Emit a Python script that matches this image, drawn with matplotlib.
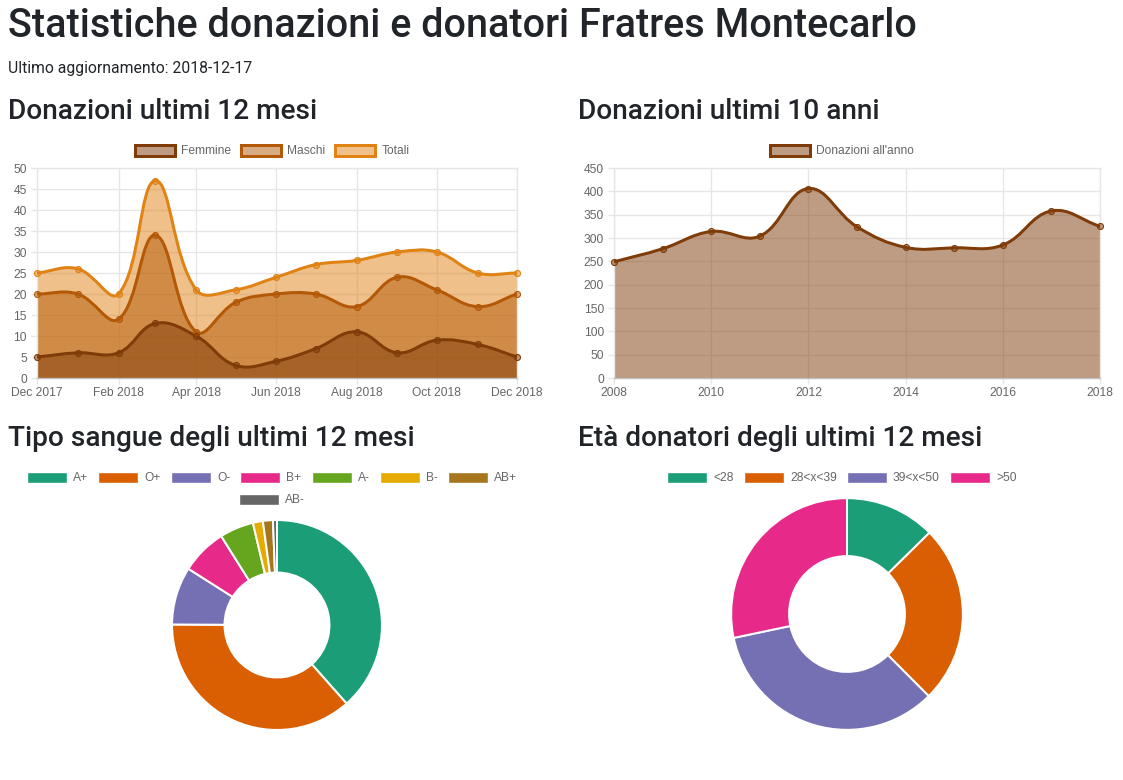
import numpy as np
import pandas as pd
import matplotlib
matplotlib.use("Agg")
import matplotlib.pyplot as plt
import matplotlib.dates as mdates
from matplotlib.path import Path
from matplotlib.patches import PathPatch, Rectangle

# --- data ---
mesi = pd.date_range("2017-12-01", periods=13, freq="MS")
femmine = [5, 6, 6, 13, 10, 3, 4, 7, 11, 6, 9, 8, 5]
maschi = [20, 20, 14, 34, 11, 18, 20, 20, 17, 24, 21, 17, 20]
totali = [25, 26, 20, 47, 21, 21, 24, 27, 28, 30, 30, 25, 25]

anni = list(range(2008, 2019))
donazioni_anno = [249, 277, 314, 304, 406, 324, 280, 279, 285, 358, 325]

gruppi = ["A+", "O+", "O-", "B+", "A-", "B-", "AB+", "AB-"]
gruppi_n = [125, 119, 29, 23, 17, 5, 5, 2]

fasce = ["<28", "28<x<39", "39<x<50", ">50"]
fasce_n = [41, 81, 111, 92]

dark2 = ["#1b9e77", "#d95f02", "#7570b3", "#e7298a", "#66a61e", "#e6ab02", "#a6761d", "#666666"]
brown, orange_dk, orange = "#7f3b08", "#b35806", "#e08214"

W, H = 1123, 780
fig = plt.figure(figsize=(W / 100, H / 100), dpi=100)
TXT = "#212529"
GRAY = "#666666"
GRID = "#e6e6e6"
PX = 72 / 100  # points per pixel


def fx(px):
    return px / W


def fy(py):
    return 1 - py / H


def spline(ax, xs, ys, t=0.4):
    # chart.js style bezier through the points, computed in pixel space
    pts = ax.transData.transform(np.column_stack([xs, ys]))
    n = len(pts)
    cp_prev = np.zeros_like(pts)
    cp_next = np.zeros_like(pts)
    for i in range(n):
        p = pts[i - 1] if i > 0 else pts[i]
        q = pts[i + 1] if i < n - 1 else pts[i]
        d01 = np.hypot(*(pts[i] - p))
        d12 = np.hypot(*(q - pts[i]))
        tot = d01 + d12
        s01 = d01 / tot if tot else 0
        s12 = d12 / tot if tot else 0
        cp_prev[i] = pts[i] - t * s01 * (q - p)
        cp_next[i] = pts[i] + t * s12 * (q - p)
    bb = ax.bbox
    cp_prev[:, 1] = np.clip(cp_prev[:, 1], bb.y0, bb.y1)
    cp_next[:, 1] = np.clip(cp_next[:, 1], bb.y0, bb.y1)
    verts = [pts[0]]
    for i in range(n - 1):
        verts += [cp_next[i], cp_prev[i + 1], pts[i + 1]]
    return ax.transData.inverted().transform(np.array(verts))


def draw_series(ax, xs, ys, color):
    v = spline(ax, xs, ys)
    codes = [Path.MOVETO] + [Path.CURVE4] * (len(v) - 1)
    fill_v = np.vstack([[v[0, 0], 0], v, [v[-1, 0], 0], [v[0, 0], 0]])
    fill_c = [Path.MOVETO, Path.LINETO] + codes[1:] + [Path.LINETO, Path.CLOSEPOLY]
    ax.add_patch(PathPatch(Path(fill_v, fill_c), facecolor=matplotlib.colors.to_rgba(color, 0.5),
                           edgecolor="none", zorder=2))
    ax.add_patch(PathPatch(Path(v, codes), facecolor="none", edgecolor=color,
                           linewidth=3 * PX, zorder=3, capstyle="round", joinstyle="round"))
    ax.plot(xs, ys, "o", ms=6 * PX, mfc=matplotlib.colors.to_rgba(color, 0.5),
            mec=color, mew=0.8, zorder=4, clip_on=False)


def style_axes(ax):
    ax.set_axisbelow(True)
    for s in ax.spines.values():
        s.set_color(GRID)
        s.set_linewidth(1)
    ax.spines["bottom"].set_color("#bfbfbf")
    ax.tick_params(length=6 * PX, width=1, color=GRID,
                   labelsize=12 * PX, labelcolor=GRAY)
    ax.tick_params(axis="y", pad=4 * PX)
    ax.tick_params(axis="x", pad=3 * PX)
    ax.grid(True, color=GRID, linewidth=1, alpha=1)
    for lab in ax.get_xticklabels() + ax.get_yticklabels():
        lab.set_family("Liberation Sans")


def legend(handles, labels, cx, cy):
    leg = fig.legend(handles, labels, loc="center", bbox_to_anchor=(fx(cx), fy(cy)),
                     ncol=len(labels), frameon=False,
                     handlelength=40 / 12, handleheight=12 / 12, handletextpad=0.5,
                     columnspacing=0.85, borderpad=0, borderaxespad=0,
                     prop={"family": "Liberation Sans", "size": 12 * PX})
    for t in leg.get_texts():
        t.set_color(GRAY)
    return leg


# --- headings ---
fig.text(fx(8), fy(37), "Statistiche donazioni e donatori Fratres Montecarlo", family="Roboto",
         fontweight=500, fontsize=39.6 * PX, color=TXT, va="baseline")
fig.text(fx(8), fy(72.5), "Ultimo aggiornamento: 2018-12-17", family="Roboto",
         fontsize=15.75 * PX, color=TXT, va="baseline")
for x, y, s in [(8, 119, "Donazioni ultimi 12 mesi"), (578, 119, "Donazioni ultimi 10 anni"),
                (8, 446, "Tipo sangue degli ultimi 12 mesi"), (578, 446, "Età donatori degli ultimi 12 mesi")]:
    fig.text(fx(x), fy(y), s, family="Roboto", fontweight=500, fontsize=28 * PX, color=TXT, va="baseline")

# --- monthly donations ---
ax1 = fig.add_axes([fx(37), fy(378), (517 - 37) / W, (378 - 168) / H])
xm = mdates.date2num(mesi)
ax1.set_xlim(xm[0], xm[-1])
ax1.set_ylim(0, 50)
ax1.set_yticks(range(0, 51, 5))
ax1.set_xticks(xm[::2])
ax1.set_xticklabels([d.strftime("%b %Y") for d in mesi[::2]])
style_axes(ax1)
series = [("Femmine", femmine, brown), ("Maschi", maschi, orange_dk), ("Totali", totali, orange)]
for name, vals, col in series[::-1]:
    draw_series(ax1, xm, vals, col)
legend([Rectangle((0, 0), 1, 1, facecolor=matplotlib.colors.to_rgba(c, 0.5), edgecolor=c, linewidth=3 * PX)
        for _, _, c in series], [s[0] for s in series], 272, 151)

# --- yearly donations ---
ax2 = fig.add_axes([fx(614), fy(378), (1100 - 614) / W, (378 - 168) / H])
ax2.set_xlim(anni[0], anni[-1])
ax2.set_ylim(0, 450)
ax2.set_yticks(range(0, 451, 50))
ax2.set_xticks(anni[::2])
style_axes(ax2)
draw_series(ax2, anni, donazioni_anno, brown)
legend([Rectangle((0, 0), 1, 1, facecolor=matplotlib.colors.to_rgba(brown, 0.5), edgecolor=brown,
                  linewidth=3 * PX)], ["Donazioni all'anno"], 842, 151)


# --- doughnuts ---
def doughnut(vals, colors, cx, cy, r):
    ax = fig.add_axes([fx(cx - r), fy(cy + r), 2 * r / W, 2 * r / H])
    ax.pie(vals, colors=colors, startangle=90, counterclock=False, radius=1,
           wedgeprops=dict(width=0.5, edgecolor="white", linewidth=2 * PX))
    ax.set_xlim(-1.01, 1.01)
    ax.set_ylim(-1.01, 1.01)
    ax.axis("off")


doughnut(gruppi_n, dark2, 277, 625, 106)
doughnut(fasce_n, dark2[:4], 847, 614, 117)


def boxes(colors):
    return [Rectangle((0, 0), 1, 1, facecolor=c, edgecolor="white", linewidth=1) for c in colors]


legend(boxes(dark2[:7]), gruppi[:7], 272, 478)
legend(boxes(dark2[7:]), gruppi[7:], 272, 500)
legend(boxes(dark2[:4]), fasce, 842, 478)

fig.savefig("out.png", dpi=100, facecolor="white")
